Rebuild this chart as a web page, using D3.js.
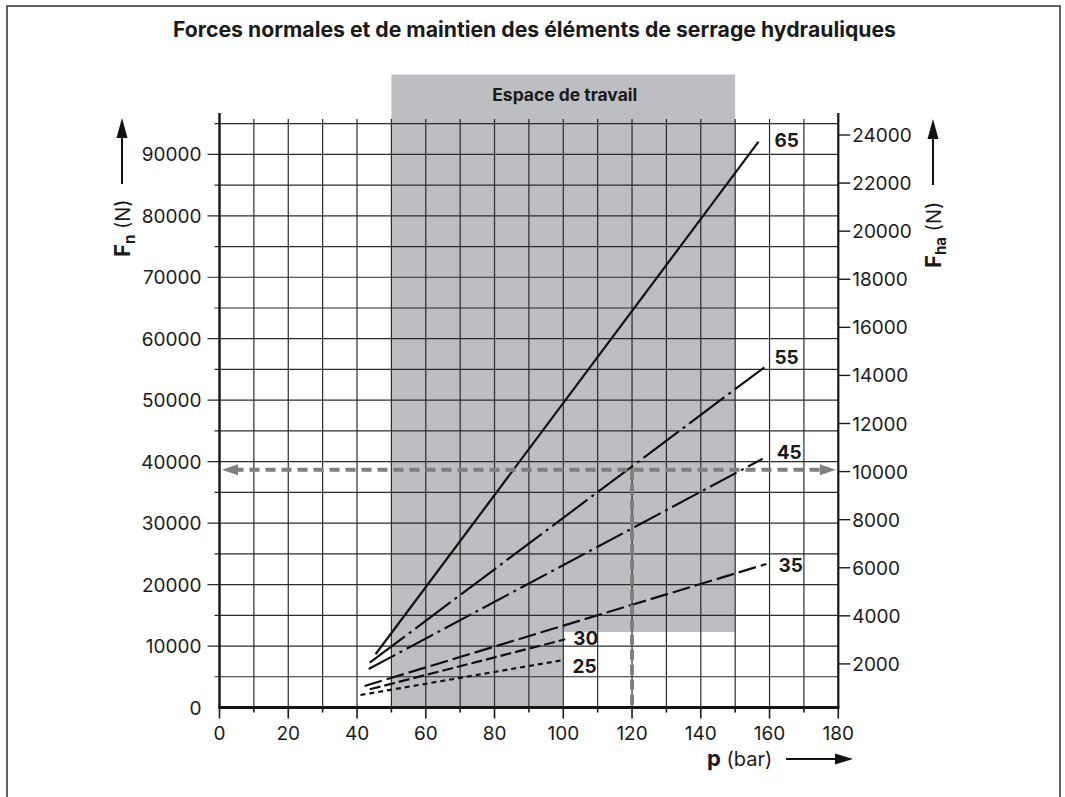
<!DOCTYPE html>
<html lang="fr">
<head>
<meta charset="utf-8">
<title>Forces normales et de maintien des éléments de serrage hydrauliques</title>
<script src="https://cdn.jsdelivr.net/npm/d3@7/dist/d3.min.js"></script>
<style>
  html, body { margin: 0; padding: 0; background: #fff; }
  svg { display: block; }
  text { font-family: Inter, "Liberation Sans", Arial, sans-serif; fill: #1a1a1a; }
</style>
</head>
<body>
<svg id="chart" width="1065" height="797"></svg>
<script>
// ---- Data -------------------------------------------------------------
const pressureTicks = [0, 20, 40, 60, 80, 100, 120, 140, 160, 180];      // p (bar)
const fnTicks = [0, 10000, 20000, 30000, 40000, 50000, 60000, 70000, 80000, 90000];   // Fn (N)
const fhaTicks = [2000, 4000, 6000, 8000, 10000, 12000, 14000, 16000, 18000, 20000, 22000, 24000]; // Fha (N)

// Piston diameters (mm) and the end points of each force line
const diameters = ["25", "30", "35", "45", "55", "65"];
const pStart  = [41.0, 43.7, 42.2, 43.4, 43.7, 45.4];
const fnStart = [2030, 2960, 3500, 6260, 7290, 8660];
const pEnd    = [100.1, 100.6, 159.1, 158.0, 158.5, 156.8];
const fnEnd   = [7730, 11100, 23350, 40480, 55350, 92060];

// Working area: 50–150 bar, stepped at 100 bar
const workP = [50, 100, 150];
const workFnTop = 103000;
const workFnStep = 12300;

// Reading example: p = 120 bar
const refP = 120;
const refFn = 38700;

// ---- Styles -----------------------------------------------------------
const lineStyle = {
  "25": { dash: "5,4",       label: [9, 13] },
  "30": { dash: "11,4",      label: [8, 6] },
  "35": { dash: "18,5",      label: [12, 8] },
  "45": { dash: "30,5,3,5",  label: [14, 0] },
  "55": { dash: "44,5,3,5",  label: [10, -3] },
  "65": { dash: null,        label: [16, 5] }
};

// ---- Scales -----------------------------------------------------------
const svg = d3.select("#chart");
const x = d3.scaleLinear().domain([0, 180]).range([219.5, 838.3]);
const yL = d3.scaleLinear().domain([0, 95000]).range([707.5, 123.6]);
const yR = d3.scaleLinear().domain([0, 24000]).range([712, 135]);
const gridTop = 119, axisTop = 113;

// outer frame
svg.append("rect")
  .attr("x", 7).attr("y", 6).attr("width", 1053).attr("height", 830)
  .attr("fill", "none").attr("stroke", "#3a3a3a").attr("stroke-width", 1.6);

// title
svg.append("text")
  .attr("x", 534.5).attr("y", 37)
  .attr("text-anchor", "middle")
  .attr("font-size", 21).attr("font-weight", 700)
  .attr("textLength", 723).attr("lengthAdjust", "spacingAndGlyphs")
  .text("Forces normales et de maintien des éléments de serrage hydrauliques");

// working area
const workPoly = [
  [workP[0], workFnTop], [workP[2], workFnTop], [workP[2], workFnStep],
  [workP[1], workFnStep], [workP[1], 0], [workP[0], 0]
];
svg.append("path")
  .attr("d", d3.line().x(d => x(d[0])).y(d => yL(d[1]))(workPoly) + "Z")
  .attr("fill", "#bdbec1");

svg.append("text")
  .attr("x", x((workP[0] + workP[2]) / 2) + 1.5).attr("y", 100.5)
  .attr("text-anchor", "middle")
  .attr("font-size", 17).attr("font-weight", 700)
  .attr("textLength", 145).attr("lengthAdjust", "spacingAndGlyphs")
  .text("Espace de travail");

// grid
const grid = svg.append("g").attr("stroke", "#2b2b2b").attr("stroke-width", 1.2);
d3.range(10, 180, 10).forEach(v => {
  grid.append("line")
    .attr("x1", x(v)).attr("x2", x(v))
    .attr("y1", yL(0)).attr("y2", gridTop);
});
d3.range(5000, 95001, 5000).forEach(v => {
  const major = v % 10000 === 0;
  grid.append("line")
    .attr("x1", x(0) - (major ? 12 : 5)).attr("x2", x(180))
    .attr("y1", yL(v)).attr("y2", yL(v));
});

// bottom axis ticks
d3.range(0, 181, 10).forEach(v => {
  const major = v % 20 === 0;
  svg.append("line")
    .attr("x1", x(v)).attr("x2", x(v))
    .attr("y1", yL(0)).attr("y2", yL(0) + (major ? 11 : 5))
    .attr("stroke", "#1a1a1a").attr("stroke-width", 1.6);
});

// axes lines
svg.append("line").attr("x1", x(0)).attr("x2", x(0)).attr("y1", yL(0) + 1).attr("y2", axisTop)
  .attr("stroke", "#151515").attr("stroke-width", 2.4);
svg.append("line").attr("x1", x(180)).attr("x2", x(180)).attr("y1", yL(0) + 1).attr("y2", axisTop)
  .attr("stroke", "#151515").attr("stroke-width", 2.2);
svg.append("line").attr("x1", x(0) - 1).attr("x2", x(180) + 1).attr("y1", yL(0)).attr("y2", yL(0))
  .attr("stroke", "#151515").attr("stroke-width", 2.8);

// left tick labels
svg.append("g").selectAll("text").data(fnTicks).join("text")
  .attr("x", x(0) - 18).attr("y", d => yL(d) + 7)
  .attr("text-anchor", "end").attr("font-size", 19)
  .text(d => d);

// bottom tick labels
svg.append("g").selectAll("text").data(pressureTicks).join("text")
  .attr("x", d => x(d)).attr("y", 740)
  .attr("text-anchor", "middle").attr("font-size", 19)
  .text(d => d);

// right axis ticks and labels
const rAxis = svg.append("g");
rAxis.selectAll("line").data(fhaTicks).join("line")
  .attr("x1", x(180)).attr("x2", x(180) + 12)
  .attr("y1", d => yR(d)).attr("y2", d => yR(d))
  .attr("stroke", "#1a1a1a").attr("stroke-width", 1.4);
rAxis.selectAll("text").data(fhaTicks).join("text")
  .attr("x", x(180) + 14).attr("y", d => yR(d) + 7)
  .attr("font-size", 19)
  .text(d => d);

// force lines
const series = diameters.map((d, i) => ({
  key: d,
  pts: [[pStart[i], fnStart[i]], [pEnd[i], fnEnd[i]]]
}));
const lineGen = d3.line().x(d => x(d[0])).y(d => yL(d[1]));
svg.append("g").selectAll("path").data(series).join("path")
  .attr("d", d => lineGen(d.pts))
  .attr("fill", "none").attr("stroke", "#111").attr("stroke-width", 2.2)
  .attr("stroke-dasharray", d => lineStyle[d.key].dash);

svg.append("g").selectAll("text").data(series).join("text")
  .attr("x", d => x(d.pts[1][0]) + lineStyle[d.key].label[0])
  .attr("y", d => yL(d.pts[1][1]) + lineStyle[d.key].label[1])
  .attr("font-size", 19).attr("font-weight", 700)
  .text(d => d.key);

// reading example (grey dashed)
const refColor = "#7f7f7f";
const ref = svg.append("g");
ref.append("line")
  .attr("x1", x(0) + 14).attr("x2", x(180) - 14)
  .attr("y1", yL(refFn)).attr("y2", yL(refFn))
  .attr("stroke", refColor).attr("stroke-width", 4).attr("stroke-dasharray", "10,6");
ref.append("line")
  .attr("x1", x(refP)).attr("x2", x(refP))
  .attr("y1", yL(refFn)).attr("y2", yL(0) - 2)
  .attr("stroke", refColor).attr("stroke-width", 4).attr("stroke-dasharray", "10,5");
function arrowHead(g, tipX, tipY, dir, len, half, color) {
  // dir: +1 points right, -1 points left, "up" points up
  let pts;
  if (dir === "up") pts = [[tipX, tipY], [tipX - half, tipY + len], [tipX + half, tipY + len]];
  else pts = [[tipX, tipY], [tipX - dir * len, tipY - half], [tipX - dir * len, tipY + half]];
  g.append("path").attr("d", "M" + pts.join("L") + "Z").attr("fill", color);
}
arrowHead(ref, x(0) + 2.5, yL(refFn), -1, 16, 5.5, refColor);
arrowHead(ref, x(180) - 2.5, yL(refFn), 1, 16, 5.5, refColor);

// axis titles
const titles = svg.append("g");
// left: Fn (N)
titles.append("line").attr("x1", 122).attr("x2", 122).attr("y1", 184).attr("y2", 134)
  .attr("stroke", "#111").attr("stroke-width", 2);
arrowHead(titles, 122, 118, "up", 20, 5.5, "#111");
const tl = titles.append("text").attr("transform", "translate(130,257) rotate(-90)");
tl.append("tspan").attr("font-size", 22).attr("font-weight", 700).text("F");
tl.append("tspan").attr("font-size", 15).attr("font-weight", 700).attr("dy", 5).text("n");
tl.append("tspan").attr("font-size", 20).attr("dy", -5).text(" (N)");

// right: Fha (N)
titles.append("line").attr("x1", 933).attr("x2", 933).attr("y1", 185).attr("y2", 135)
  .attr("stroke", "#111").attr("stroke-width", 2);
arrowHead(titles, 933, 119, "up", 20, 5.5, "#111");
const tr = titles.append("text").attr("transform", "translate(941,268) rotate(-90)");
tr.append("tspan").attr("font-size", 22).attr("font-weight", 700).text("F");
tr.append("tspan").attr("font-size", 15).attr("font-weight", 700).attr("dy", 5).text("ha");
tr.append("tspan").attr("font-size", 20).attr("dy", -5).text(" (N)");

// bottom: p (bar)
const tb = titles.append("text").attr("x", 707).attr("y", 766);
tb.append("tspan").attr("font-size", 22).attr("font-weight", 700).text("p");
tb.append("tspan").attr("font-size", 20).text(" (bar)");
titles.append("line").attr("x1", 786).attr("x2", 838).attr("y1", 759).attr("y2", 759)
  .attr("stroke", "#111").attr("stroke-width", 2);
arrowHead(titles, 853, 759, 1, 18, 5.5, "#111");
</script>
</body>
</html>
